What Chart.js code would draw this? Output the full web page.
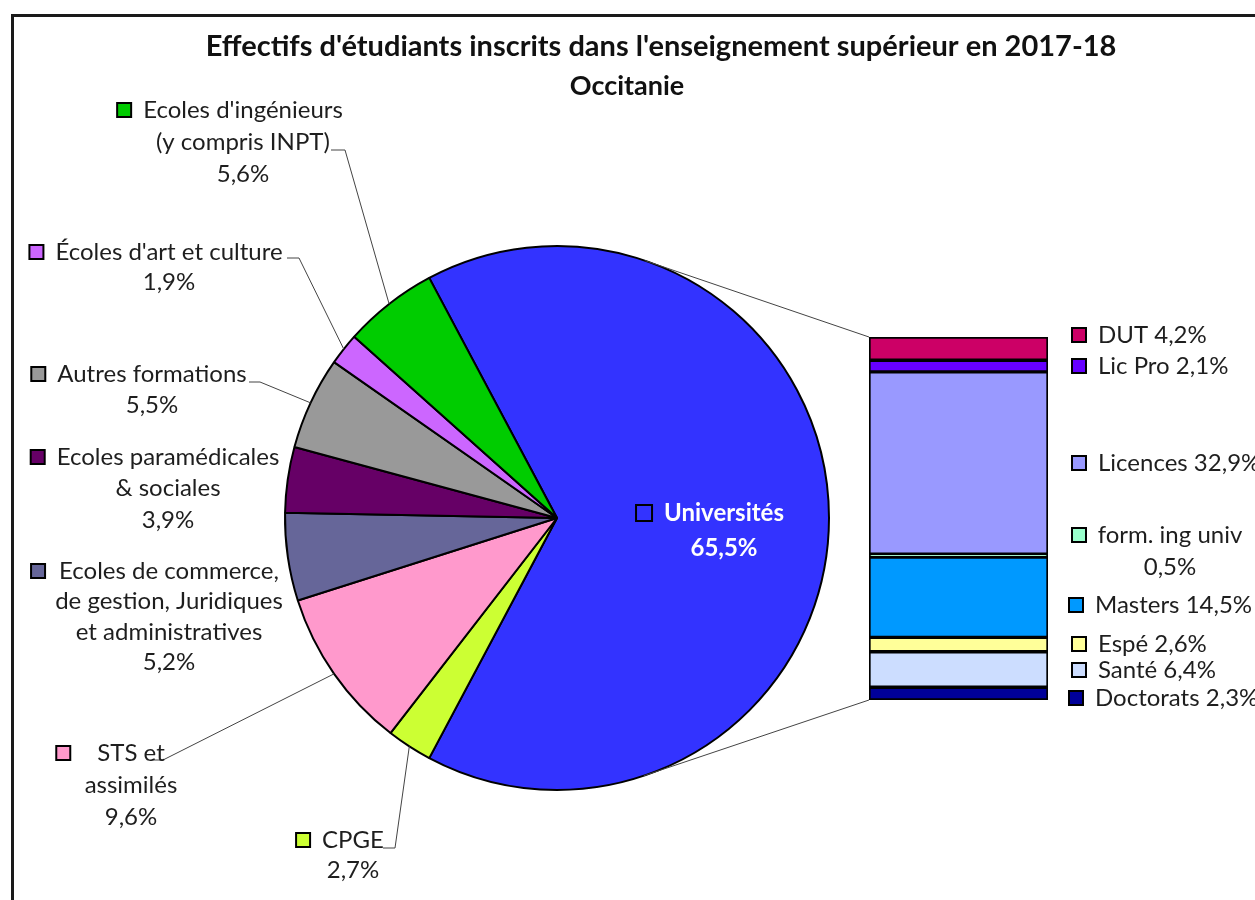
<!DOCTYPE html>
<html lang="fr">
<head>
<meta charset="utf-8">
<title>Effectifs d'étudiants inscrits dans l'enseignement supérieur en 2017-18 - Occitanie</title>
<script src="https://cdn.jsdelivr.net/npm/chart.js@4.4.1/dist/chart.umd.min.js"></script>
<style>
    html, body { margin: 0; padding: 0; background: #fff; }
    #wrap { position: relative; width: 1255px; height: 900px; overflow: hidden; }
    #wrap canvas { position: absolute; left: 0; top: 0; }
</style>
</head>
<body>
<div id="wrap">
    <canvas id="pieChart" width="1255" height="900"></canvas>
    <canvas id="barChart" width="1255" height="900"></canvas>
</div>
<script>
const titleLines = ["Effectifs d'étudiants inscrits dans l'enseignement supérieur en 2017-18", 'Occitanie'];

// pie, clockwise from the split slice
const pieLabels = [
    ['Universités'],
    ['CPGE'],
    ['STS et', 'assimilés'],
    ['Ecoles de commerce,', 'de gestion, Juridiques', 'et administratives'],
    ['Ecoles paramédicales', '& sociales'],
    ['Autres formations'],
    ["Écoles d'art et culture"],
    ["Ecoles d'ingénieurs", '(y compris INPT)'],
];
const pieValues = [65.5, 2.7, 9.6, 5.2, 3.9, 5.5, 1.9, 5.6];
const pieColors = ['#3333FF', '#CCFF33', '#FF99CC', '#666699', '#660066', '#999999', '#CC66FF', '#00CC00'];

// breakdown of Universités, top to bottom
const barLabels = [['DUT'], ['Lic Pro'], ['Licences'], ['form. ing univ'], ['Masters'], ['Espé'], ['Santé'], ['Doctorats']];
const barValues = [4.2, 2.1, 32.9, 0.5, 14.5, 2.6, 6.4, 2.3];
const barColors = ['#CC0066', '#6600FF', '#9999FF', '#99FFCC', '#0099FF', '#FFFF99', '#CCDDFF', '#000099'];

const FONT = 'Lato, "Open Sans", sans-serif';
const LABEL_SIZE = 24;
const TEXT_COLOR = '#1e1e1e';

function pct(v) {
    return v.toFixed(1).replace('.', ',') + '%';
}

// where each pie label sits: text centre, first line y, line height,
// gap to the key box, and the short horizontal start of its leader line
const pieLabelLayout = [
    { cx: 724, y: 513, lh: 35, gap: 12, box: 16, bold: true, color: '#fff' },
    { cx: 353, y: 840, lh: 30, gap: 12, leader: [[383, 848], [395, 848]] },
    { cx: 131, y: 753, lh: 32, gap: 27, leader: [[152, 760], [163, 760]] },
    { cx: 169, y: 571, lh: 30.5, gap: 14 },
    { cx: 168, y: 457, lh: 31.5, gap: 12 },
    { cx: 152, y: 374, lh: 31, gap: 12, leader: [[249, 382], [260, 382]] },
    { cx: 169, y: 252, lh: 30, gap: 12, leader: [[287, 258], [299, 258]] },
    { cx: 243, y: 110, lh: 32, gap: 12, leader: [[331, 150], [345, 150]] },
];

// legend next to the bar: key box x and y of each line
const barLabelLayout = [
    { x: 1072, y: 335 },
    { x: 1072, y: 366 },
    { x: 1072, y: 463 },
    { x: 1072, y: 535, cx: 1170, lh: 32 },
    { x: 1069, y: 605 },
    { x: 1072, y: 644 },
    { x: 1072, y: 670 },
    { x: 1069, y: 698 },
];

function drawBox(ctx, x, y, size, color) {
    ctx.fillStyle = color;
    ctx.fillRect(x, y - size / 2, size, size);
    ctx.lineWidth = 2;
    ctx.strokeStyle = '#000';
    ctx.strokeRect(x, y - size / 2, size, size);
}

const barTotal = barValues.reduce((a, b) => a + b, 0);

const barChart = new Chart(document.getElementById('barChart'), {
    type: 'bar',
    data: {
        labels: ['Universités'],
        datasets: barLabels.map((lab, i) => ({
            label: lab.join(' '),
            data: [barValues[i]],
            backgroundColor: barColors[i],
            borderColor: '#000',
            borderWidth: 2,
            borderSkipped: false,
            barPercentage: 1,
            categoryPercentage: 1,
            stack: 'univ',
        })),
    },
    options: {
        responsive: false,
        animation: false,
        events: [],
        layout: { padding: { left: 869, right: 207, top: 337, bottom: 200 } },
        scales: {
            x: { stacked: true, display: false },
            y: { stacked: true, display: false, reverse: true, min: 0, max: barTotal },
        },
        plugins: { legend: { display: false }, tooltip: { enabled: false } },
    },
    plugins: [{
        id: 'barLegend',
        afterDraw(chart) {
            const ctx = chart.ctx;
            ctx.save();
            ctx.font = LABEL_SIZE + 'px ' + FONT;
            ctx.textBaseline = 'middle';
            barLabels.forEach((lab, i) => {
                const l = barLabelLayout[i];
                drawBox(ctx, l.x, l.y, 14, barColors[i]);
                ctx.fillStyle = TEXT_COLOR;
                if (l.cx) {
                    ctx.textAlign = 'center';
                    ctx.fillText(lab.join(' '), l.cx, l.y);
                    ctx.fillText(pct(barValues[i]), l.cx, l.y + l.lh);
                } else {
                    ctx.textAlign = 'left';
                    ctx.fillText(lab.join(' ') + ' ' + pct(barValues[i]), l.x + 26, l.y);
                }
            });
            ctx.restore();
        },
    }],
});

const pieTotal = pieValues.reduce((a, b) => a + b, 0);

new Chart(document.getElementById('pieChart'), {
    type: 'pie',
    data: {
        labels: pieLabels.map(l => l.join(' ')),
        datasets: [{
            data: pieValues,
            backgroundColor: pieColors,
            borderColor: '#000',
            borderWidth: 2,
        }],
    },
    options: {
        responsive: false,
        animation: false,
        events: [],
        radius: 272,
        // split slice centred on the right, facing the bar
        rotation: 90 - pieValues[0] / pieTotal * 180,
        layout: { padding: { left: 285, right: 426, top: 246, bottom: 110 } },
        plugins: { legend: { display: false }, tooltip: { enabled: false } },
    },
    plugins: [{
        id: 'frameAndTitle',
        beforeDraw(chart) {
            const ctx = chart.ctx;
            ctx.save();
            ctx.fillStyle = '#fff';
            ctx.fillRect(0, 0, chart.width, chart.height);
            ctx.strokeStyle = '#1a1a1a';
            ctx.lineWidth = 3;
            ctx.strokeRect(12.5, 15.5, 1400, 1000);
            ctx.fillStyle = '#111';
            ctx.textAlign = 'center';
            ctx.textBaseline = 'middle';
            ctx.font = 'bold 29px ' + FONT;
            ctx.fillText(titleLines[0], 661, 47);
            ctx.font = 'bold 27px ' + FONT;
            ctx.fillText(titleLines[1], 627, 86);
            ctx.restore();
        },
    }, {
        id: 'pieLabels',
        afterDatasetsDraw(chart) {
            const ctx = chart.ctx;
            const arcs = chart.getDatasetMeta(0).data;
            const area = barChart.chartArea;
            ctx.save();

            // series lines from the pie to the bar ends (tangent points)
            const c = arcs[0];
            [[area.left, area.top, -1], [area.left, area.bottom, 1]].forEach(([px, py, s]) => {
                const dx = px - c.x, dy = py - c.y;
                const d = Math.hypot(dx, dy);
                const a = Math.atan2(dy, dx) + s * Math.acos(c.outerRadius / d);
                ctx.beginPath();
                ctx.moveTo(c.x + c.outerRadius * Math.cos(a), c.y + c.outerRadius * Math.sin(a));
                ctx.lineTo(px, py);
                ctx.strokeStyle = '#444';
                ctx.lineWidth = 1;
                ctx.stroke();
            });

            pieLabels.forEach((lines, i) => {
                const l = pieLabelLayout[i];
                const arc = arcs[i];
                if (l.leader) {
                    const mid = (arc.startAngle + arc.endAngle) / 2;
                    ctx.beginPath();
                    ctx.moveTo(l.leader[0][0], l.leader[0][1]);
                    ctx.lineTo(l.leader[1][0], l.leader[1][1]);
                    ctx.lineTo(arc.x + arc.outerRadius * Math.cos(mid), arc.y + arc.outerRadius * Math.sin(mid));
                    ctx.strokeStyle = '#444';
                    ctx.lineWidth = 1;
                    ctx.stroke();
                }
                ctx.font = (l.bold ? 'bold ' : '') + LABEL_SIZE + 'px ' + FONT;
                ctx.textAlign = 'center';
                ctx.textBaseline = 'middle';
                const all = lines.concat([pct(pieValues[i])]);
                const w0 = ctx.measureText(all[0]).width;
                const boxSize = l.box || 14;
                drawBox(ctx, l.cx - w0 / 2 - l.gap - boxSize, l.y, boxSize, pieColors[i]);
                ctx.fillStyle = l.color || TEXT_COLOR;
                all.forEach((t, k) => ctx.fillText(t, l.cx, l.y + k * l.lh));
            });
            ctx.restore();
        },
    }],
});
</script>
</body>
</html>
